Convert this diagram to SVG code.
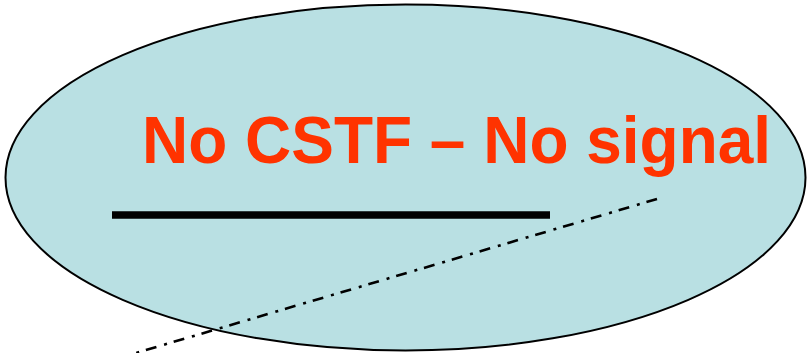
<svg xmlns="http://www.w3.org/2000/svg" width="808" height="353" viewBox="0 0 808 353">
<style>
.title{font-family:"Liberation Sans",Arial,sans-serif;font-weight:bold;font-size:67px;fill:#ff3300}
</style>
<rect width="808" height="353" fill="#ffffff"/>
<g id="node-ellipse">
<ellipse cx="405.5" cy="177.5" rx="400" ry="173" fill="#b9e0e3" stroke="#000000" stroke-width="2"/>
<text class="title" transform="translate(142,163) scale(0.955,1)" x="0" y="0">No CSTF – No signal</text>
</g>
<g id="connectors">
<line x1="112" y1="215" x2="550" y2="215" stroke="#000000" stroke-width="7.6"/>
<line x1="657" y1="199" x2="136" y2="353" stroke="#000000" stroke-width="2.6" stroke-dasharray="11 7 3 8"/>
</g>
</svg>
